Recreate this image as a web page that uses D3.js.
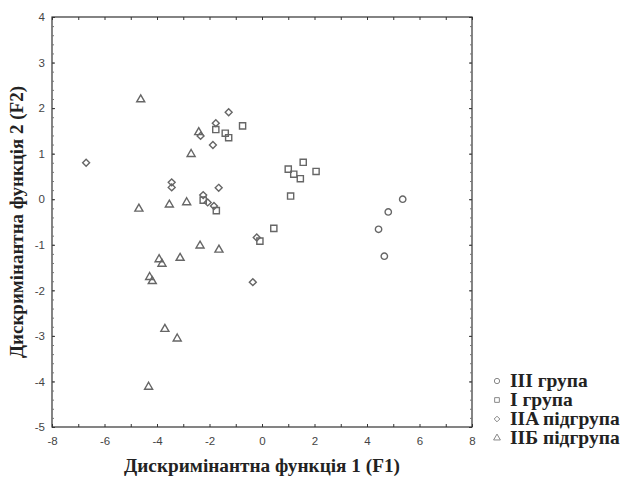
<!DOCTYPE html>
<html><head><meta charset="utf-8">
<script src="https://cdn.jsdelivr.net/npm/d3@7"></script>
<style>body{margin:0;background:#fff}svg{display:block}</style>
</head><body>
<script>
// Data (F1, F2) per group
const groupNames = ["III група", "I група", "IIA підгрупа", "IIБ підгрупа"];
const groupIII = [[5.36,0.0],[4.81,-0.28],[4.44,-0.66],[4.66,-1.25]];
const groupI = [[-0.74,1.61],[1.57,0.81],[1.0,0.66],[1.21,0.55],[1.46,0.45],[2.06,0.61],[1.09,0.07],
  [0.45,-0.64],[-0.08,-0.92],[-1.76,1.53],[-1.40,1.45],[-1.27,1.35],[-2.24,-0.02],[-1.74,-0.25]];
const groupIIA = [[-6.7,0.8],[-1.76,1.67],[-1.27,1.91],[-2.34,1.39],[-1.87,1.19],[-3.44,0.37],[-3.44,0.26],
  [-1.65,0.25],[-2.24,0.09],[-2.07,-0.07],[-1.83,-0.15],[-0.2,-0.84],[-0.35,-1.82]];
const groupIIB = [[-4.62,2.19],[-2.41,1.47],[-2.70,0.99],[-4.69,-0.21],[-3.53,-0.12],[-2.87,-0.07],
  [-2.36,-1.02],[-1.64,-1.11],[-3.12,-1.29],[-3.92,-1.32],[-3.81,-1.42],[-4.28,-1.71],[-4.18,-1.80],
  [-3.70,-2.85],[-3.23,-3.06],[-4.32,-4.12]];
const xTicks = [-8,-6,-4,-2,0,2,4,6,8];
const yTicks = [-5,-4,-3,-2,-1,0,1,2,3,4];
const xTitle = "Дискримінантна функція 1 (F1)";
const yTitle = "Дискримінантна функція 2 (F2)";

const W = 624, H = 479;
const L = 52, R = 472, T = 17, B = 427;
const svg = d3.select("body").append("svg").attr("width", W).attr("height", H);
const x = d3.scaleLinear().domain([-8, 8]).range([L, R]);
const y = d3.scaleLinear().domain([-5, 4]).range([B, T]);

const axisCol = "#333";
svg.append("rect").attr("x", L).attr("y", T).attr("width", R - L).attr("height", B - T)
  .attr("fill", "none").attr("stroke", axisCol).attr("stroke-width", 1.2);

const xMinor = d3.range(-8, 8.01, 1);
const yMinor = d3.range(-5, 4.01, 0.2);
function tickSet(axisGen, tr, vals, len, col) {
  const g = svg.append("g").attr("transform", tr)
    .call(axisGen.tickValues(vals).tickSize(len).tickFormat(""));
  g.select(".domain").remove();
  g.selectAll("line").attr("stroke", col || axisCol);
}
tickSet(d3.axisBottom(x), `translate(0,${B})`, xMinor, -3);
tickSet(d3.axisTop(x), `translate(0,${T})`, xMinor, -3);
tickSet(d3.axisLeft(y), `translate(${L},0)`, yMinor, -2, "#777");
tickSet(d3.axisRight(y), `translate(${R},0)`, yMinor, -2, "#777");
tickSet(d3.axisLeft(y), `translate(${L},0)`, yTicks, -3);
tickSet(d3.axisRight(y), `translate(${R},0)`, yTicks, -3);

const fmt = d => String(d);
const gx = svg.append("g").attr("transform", `translate(0,${B})`)
  .call(d3.axisBottom(x).tickValues(xTicks).tickSize(0).tickPadding(10).tickFormat(fmt));
gx.select(".domain").remove();
gx.selectAll("text").attr("font-family", "Liberation Sans, Arial, sans-serif").attr("font-size", 11.5).attr("fill", "#444");
const gy = svg.append("g").attr("transform", `translate(${L},0)`)
  .call(d3.axisLeft(y).tickValues(yTicks).tickSize(0).tickPadding(7).tickFormat(fmt));
gy.select(".domain").remove();
gy.selectAll("text").attr("font-family", "Liberation Sans, Arial, sans-serif").attr("font-size", 11.5).attr("fill", "#444");

const serif = "Liberation Serif, Times New Roman, serif";
svg.append("text").attr("x", (L + R) / 2).attr("y", 472).attr("text-anchor", "middle")
  .attr("font-family", serif).attr("font-weight", "bold")
  .attr("font-size", 18).attr("fill", "#222")
  .attr("textLength", 276).attr("lengthAdjust", "spacingAndGlyphs").text(xTitle);
svg.append("text").attr("transform", `translate(23,${(T + B) / 2}) rotate(-90)`).attr("text-anchor", "middle")
  .attr("font-family", serif).attr("font-weight", "bold")
  .attr("font-size", 18).attr("fill", "#222")
  .attr("textLength", 272).attr("lengthAdjust", "spacingAndGlyphs").text(yTitle);

// markers
const mCol = "#666";
const diamondSq = { draw(ctx, size) { const r = Math.sqrt(size / 2); ctx.moveTo(0, -r); ctx.lineTo(r, 0); ctx.lineTo(0, r); ctx.lineTo(-r, 0); ctx.closePath(); } };
const types = [d3.symbolCircle, d3.symbolSquare, diamondSq, d3.symbolTriangle];
const sizes = [32, 38, 24, 28];
const groups = [groupIII, groupI, groupIIA, groupIIB];
groups.forEach((pts, i) => {
  svg.append("g").selectAll("path").data(pts).join("path")
    .attr("transform", d => `translate(${x(d[0])},${y(d[1])})`)
    .attr("d", d3.symbol().type(types[i]).size(sizes[i])()).attr("fill", "none")
    .attr("stroke", mCol).attr("stroke-width", 1.4);
});

// legend
const legY = [381, 400, 419, 438];
groupNames.forEach((name, i) => {
  svg.append("path").attr("transform", `translate(497,${legY[i]})`)
    .attr("d", d3.symbol().type(types[i]).size([22, 22, 16, 20][i])())
    .attr("fill", "none").attr("stroke", "#888").attr("stroke-width", 1);
  svg.append("text").attr("x", 510).attr("y", legY[i] + 6)
    .attr("font-family", serif).attr("font-weight", "bold")
    .attr("font-size", 19.5).attr("fill", "#222").text(name);
});
</script>
</body></html>
